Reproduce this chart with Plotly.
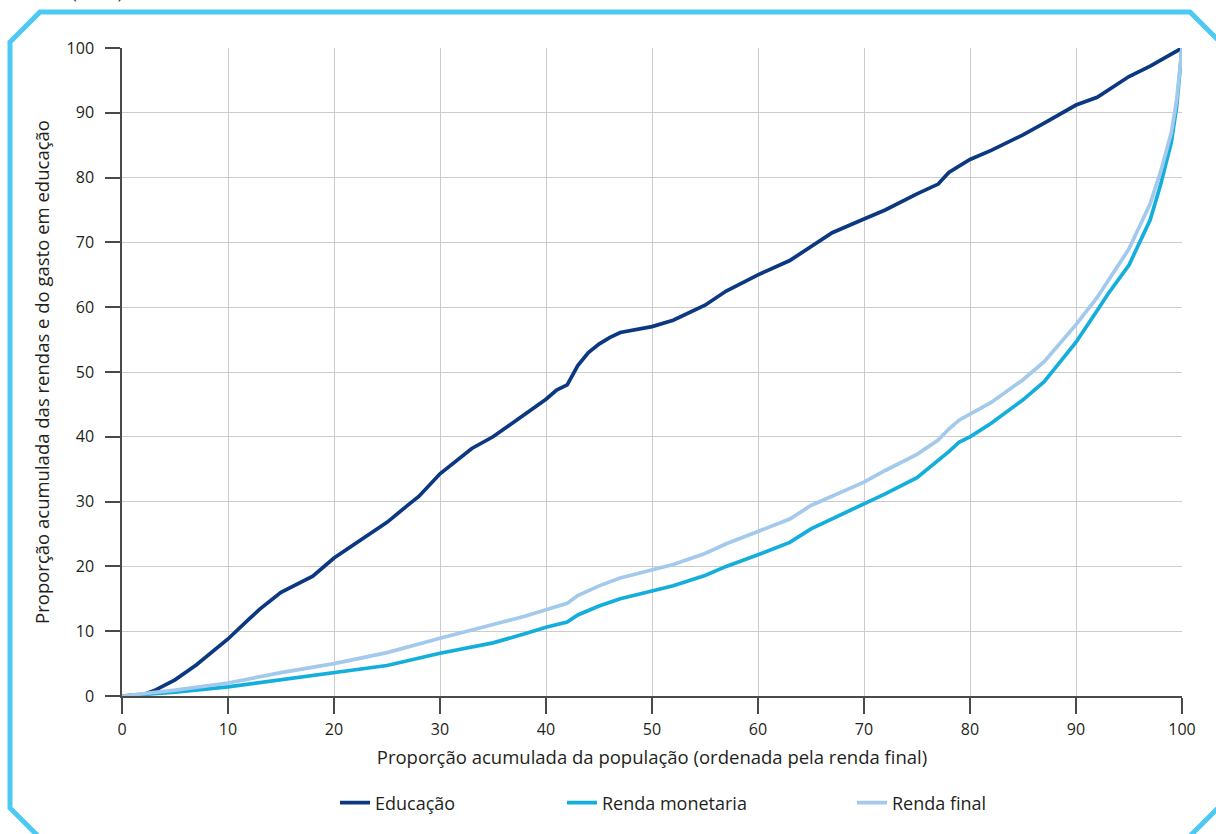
import plotly.graph_objects as go

# ---- data ----
x_educ = [0, 2, 3, 5, 7, 10, 12, 13, 15, 17, 18, 20, 22, 25, 27, 28, 30, 33, 35, 37, 40, 41, 42, 43, 44, 45, 46,
          47, 48, 50, 52, 55, 57, 60, 63, 65, 67, 70, 72, 75, 77, 78, 80, 82, 85, 87, 90, 92, 95, 97, 100]
y_educ = [0, 0.2, 0.8, 2.5, 4.8, 8.8, 11.9, 13.4, 16.0, 17.6, 18.5, 21.3, 23.5, 26.8, 29.5, 30.8, 34.3, 38.2, 40.0,
          42.3, 45.8, 47.2, 48.0, 51.0, 53.0, 54.3, 55.3, 56.1, 56.4, 57.0, 58.0, 60.3, 62.5, 65.0, 67.2, 69.3, 71.5,
          73.6, 75.0, 77.5, 79.0, 80.8, 82.8, 84.2, 86.6, 88.4, 91.2, 92.4, 95.6, 97.2, 100]

x_renda = [0, 5, 10, 15, 20, 25, 30, 35, 38, 40, 42, 43, 45, 47, 50, 52, 55, 57, 60, 63, 65, 67, 70, 72, 75, 77,
           78, 79, 80, 82, 85, 87, 90, 92, 93, 95, 96, 97, 98, 99, 99.5, 100]
y_final = [0, 0.9, 2.0, 3.6, 5.0, 6.7, 8.9, 11.0, 12.3, 13.3, 14.3, 15.5, 17.0, 18.2, 19.4, 20.3, 22.0, 23.5, 25.4,
           27.3, 29.4, 30.8, 33.0, 34.8, 37.3, 39.5, 41.2, 42.6, 43.5, 45.3, 48.8, 51.6, 57.3, 61.5, 64.0, 69.0,
           72.5, 76.0, 81.0, 87.0, 92.0, 100]
y_monet = [0, 0.6, 1.4, 2.5, 3.6, 4.7, 6.6, 8.2, 9.6, 10.6, 11.4, 12.5, 13.9, 15.0, 16.2, 17.0, 18.6, 20.0, 21.8,
           23.7, 25.8, 27.3, 29.6, 31.2, 33.7, 36.3, 37.7, 39.2, 40.0, 42.1, 45.7, 48.5, 54.6, 59.5, 62.0, 66.5,
           70.0, 73.5, 79.0, 85.5, 91.0, 100]

series_names = ["Educação", "Renda monetaria", "Renda final"]
tick_vals = [0, 10, 20, 30, 40, 50, 60, 70, 80, 90, 100]

# ---- layout geometry (pixels) ----
W, H = 1216, 834
L, R, T, B = 122, 1182, 48, 696


def px(xp):
    return (xp - L) / (R - L)


def py(yp):
    return (B - yp) / (B - T)


FONT = "Open Sans"
TXT = "#231F20"

fig = go.Figure()
fig.add_trace(go.Scatter(x=x_educ, y=y_educ, name=series_names[0], mode="lines",
                         line=dict(color="#0C3882", width=3.7), legend="legend"))
fig.add_trace(go.Scatter(x=x_renda, y=y_monet, name=series_names[1], mode="lines",
                         line=dict(color="#14AEDD", width=3.7), legend="legend2"))
fig.add_trace(go.Scatter(x=x_renda, y=y_final, name=series_names[2], mode="lines",
                         line=dict(color="#A3C9EC", width=3.7), legend="legend3"))

# frame with cut corners
pts = [(10, 42), (40, 12), (1190, 12), (1224, 46), (1224, 802), (1186, 840), (42, 840), (10, 808)]
path = "M " + " L ".join(f"{px(a):.5f},{py(b):.5f}" for a, b in pts) + " Z"
fig.add_shape(type="path", path=path, xref="paper", yref="paper",
              line=dict(color="#4CCAF3", width=5), fillcolor="rgba(0,0,0,0)", layer="below")

fig.add_annotation(text="(Em %)", x=px(70), y=py(6), xref="paper", yref="paper",
                   xanchor="left", yanchor="bottom", showarrow=False,
                   font=dict(family=FONT, size=16, color=TXT))

axis_common = dict(range=[0, 100], tickvals=tick_vals, showgrid=True, gridcolor="#CCCCCC", gridwidth=1,
                   zeroline=False, showline=True, linecolor="#4A4A4A", linewidth=1.5,
                   ticks="outside", tickcolor="#4A4A4A", tickwidth=1.5,
                   tickfont=dict(family=FONT, size=16, color=TXT))

legend_font = dict(family=FONT, size=18, color=TXT)

fig.update_layout(
    width=W, height=H, autosize=False,
    margin=dict(l=L, r=W - R, t=T, b=H - B),
    paper_bgcolor="white", plot_bgcolor="white",
    xaxis=dict(**axis_common, ticklen=16, ticklabelstandoff=2,
               title=dict(text="Proporção acumulada da população (ordenada pela renda final)",
                          font=dict(family=FONT, size=18.5, color=TXT), standoff=12)),
    yaxis=dict(**axis_common, ticklen=15, ticklabelstandoff=8,
               title=dict(text="Proporção acumulada das rendas e do gasto em educação",
                          font=dict(family=FONT, size=18.5, color=TXT), standoff=12)),
    legend=dict(x=px(335), y=py(803), xanchor="left", yanchor="middle", orientation="h",
                font=legend_font, bgcolor="rgba(0,0,0,0)"),
    legend2=dict(x=px(562), y=py(803), xanchor="left", yanchor="middle", orientation="h",
                 font=legend_font, bgcolor="rgba(0,0,0,0)"),
    legend3=dict(x=px(852), y=py(803), xanchor="left", yanchor="middle", orientation="h",
                 font=legend_font, bgcolor="rgba(0,0,0,0)"),
    showlegend=True,
)

fig.write_html("out.html", config={"displayModeBar": False},
               post_script="document.body.style.margin='0';document.body.style.overflow='hidden';")
